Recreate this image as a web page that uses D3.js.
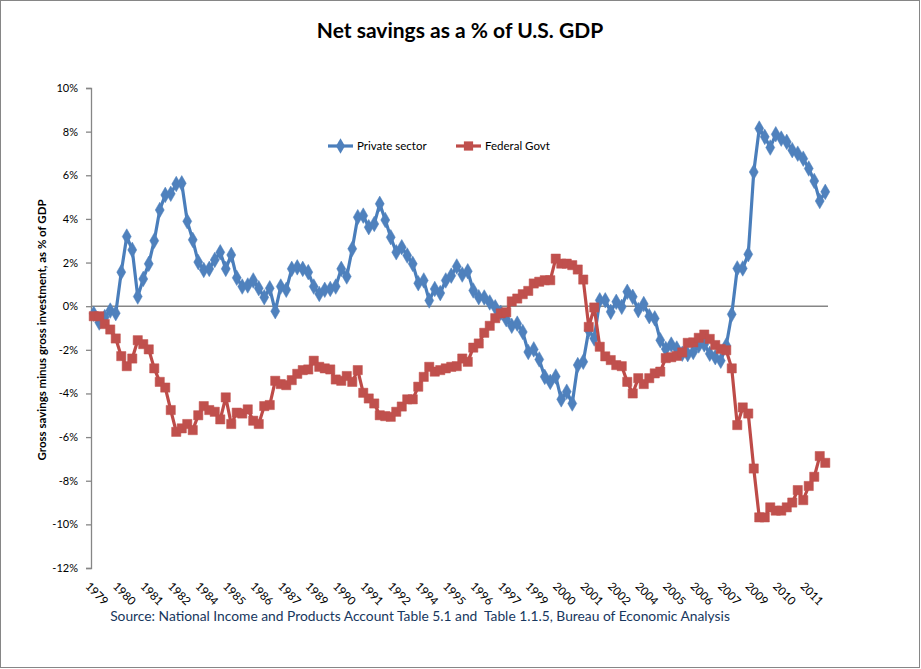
<!DOCTYPE html>
<html>
<head>
<meta charset="utf-8">
<script src="https://cdn.jsdelivr.net/npm/d3@7/dist/d3.min.js"></script>
<style>
  html, body { margin: 0; padding: 0; background: #fff; }
  svg { display: block; font-family: Lato, "Open Sans", sans-serif; }
</style>
</head>
<body>
<svg id="chart" width="921" height="669"></svg>
<script>
// ---------------- data (quarterly, 1979 Q1 .. 2012 Q2) ----------------
const firstYear = 1979;
const quarterCount = 134;
const categories = d3.range(quarterCount).map(i => `${firstYear + Math.floor(i / 4)} Q${(i % 4) + 1}`);

const privateSector = [
  -0.35, -0.75, -0.5, -0.2, -0.32, 1.56, 3.19, 2.58, 0.44, 1.25,
  1.94, 3.0, 4.41, 5.1, 5.15, 5.6, 5.63, 3.89, 3.04, 2.02,
  1.66, 1.71, 2.12, 2.47, 1.71, 2.35, 1.3, 0.9, 0.95, 1.18,
  0.82, 0.41, 0.82, -0.23, 0.9, 0.75, 1.71, 1.78, 1.71, 1.56,
  0.9, 0.56, 0.75, 0.79, 0.9, 1.71, 1.36, 2.63, 4.08, 4.15,
  3.62, 3.77, 4.69, 3.95, 3.16, 2.47, 2.7, 2.32, 1.94, 1.05,
  1.18, 0.26, 0.79, 0.6, 1.18, 1.4, 1.82, 1.45, 1.6, 0.72,
  0.41, 0.4, 0.17, -0.05, -0.3, -0.6, -0.9, -0.8, -1.18, -2.1,
  -1.98, -2.44, -3.24, -3.47, -3.22, -4.27, -3.92, -4.46, -2.7, -2.55,
  -1.1, -1.48, 0.27, 0.27, -0.26, 0.2, -0.03, 0.66, 0.43, -0.18,
  0.1, -0.46, -0.56, -1.56, -1.96, -1.76, -1.94, -2.18, -2.2, -2.1,
  -1.8, -1.75, -2.18, -2.34, -2.5, -1.8, -0.37, 1.73, 1.73, 2.38,
  6.15, 8.14, 7.76, 7.27, 7.88, 7.68, 7.53, 7.15, 6.99, 6.76,
  6.31, 5.74, 4.82, 5.24
];

const federalGovt = [
  -0.46, -0.46, -0.82, -1.07, -1.48, -2.29, -2.75, -2.4, -1.56, -1.74,
  -1.98, -2.85, -3.47, -3.73, -4.76, -5.76, -5.6, -5.4, -5.68, -5.0,
  -4.58, -4.76, -4.84, -5.19, -4.18, -5.4, -4.88, -4.92, -4.73, -5.25,
  -5.4, -4.58, -4.53, -3.42, -3.57, -3.62, -3.39, -3.1, -2.93, -2.9,
  -2.5, -2.78, -2.85, -2.9, -3.36, -3.42, -3.2, -3.47, -2.93, -3.97,
  -4.23, -4.46, -5.0, -5.04, -5.07, -4.84, -4.6, -4.27, -4.27, -3.69,
  -3.24, -2.78, -3.0, -2.93, -2.85, -2.78, -2.75, -2.4, -2.55, -1.9,
  -1.71, -1.22, -0.9, -0.55, -0.33, -0.28, 0.22, 0.35, 0.55, 0.7,
  1.04, 1.12, 1.19, 1.19, 2.18, 1.95, 1.95, 1.88, 1.68, 1.22,
  -0.95, -0.06, -1.86, -2.3, -2.47, -2.7, -2.75, -3.47, -4.0, -3.3,
  -3.57, -3.3, -3.08, -3.0, -2.38, -2.34, -2.28, -2.12, -1.68, -1.66,
  -1.45, -1.3, -1.5, -1.78, -1.96, -2.02, -2.85, -5.45, -4.64, -4.92,
  -7.44, -9.68, -9.68, -9.22, -9.37, -9.37, -9.22, -9.0, -8.43, -8.89,
  -8.24, -7.82, -6.87, -7.18
];

// category-axis labels, shown on every 5th quarter
const tickLabels = ["1979","1980","1981","1982","1984","1985","1986","1987","1989","1990",
  "1991","1992","1994","1995","1996","1997","1999","2000","2001","2002",
  "2004","2005","2006","2007","2009","2010","2011"];
const tickEvery = 5;
const yTicks = [-12, -10, -8, -6, -4, -2, 0, 2, 4, 6, 8, 10];

const seriesNames = ["Private sector", "Federal Govt"];
const titleText = "Net savings as a % of U.S. GDP";
const yTitleText = "Gross savings minus gross investment, as % of GDP";
const sourceText = "Source: National Income and Products Account Table 5.1 and  Table 1.1.5, Bureau of Economic Analysis";

// ---------------- layout ----------------
const W = 921, H = 669;
const plot = { left: 91, right: 828, top: 88, bottom: 568 };
const blue = "#4A7EBB", blueMk = "#4F81BD";
const red = "#BE4B48", redMk = "#C0504D";
const axisGray = "#868686";

const svg = d3.select("#chart");

svg.append("rect")
  .attr("x", 0.5).attr("y", 0.5).attr("width", W - 2).attr("height", H - 2)
  .attr("fill", "#fff").attr("stroke", axisGray).attr("stroke-width", 1);

const x = d3.scaleBand().domain(d3.range(categories.length)).range([plot.left, plot.right]).paddingInner(0).paddingOuter(0);
const cx = i => x(i) + x.bandwidth() / 2;
const y = d3.scaleLinear().domain([-12, 10]).range([plot.bottom, plot.top]);

// title
svg.append("text")
  .attr("x", 460).attr("y", 38)
  .attr("text-anchor", "middle")
  .attr("font-size", 21).attr("font-weight", "bold").attr("fill", "#000")
  .text(titleText);

// y axis
const yAxis = d3.axisLeft(y).tickValues(yTicks).tickSize(5).tickPadding(8).tickFormat(d => `${d}%`);
const gy = svg.append("g").attr("transform", `translate(${plot.left},0)`).call(yAxis);
gy.select(".domain").attr("stroke", axisGray).attr("stroke-width", 1.3);
gy.selectAll(".tick line").attr("stroke", axisGray).attr("stroke-width", 1.3);
gy.selectAll(".tick text").attr("font-family", "Lato, sans-serif").attr("font-size", 11).attr("fill", "#000");

// y title
svg.append("text")
  .attr("transform", `translate(46,330) rotate(-90)`)
  .attr("text-anchor", "middle")
  .attr("font-size", 11.5).attr("font-weight", "bold").attr("fill", "#000")
  .text(yTitleText);

// horizontal category axis at 0
svg.append("line")
  .attr("x1", plot.left).attr("x2", plot.right)
  .attr("y1", y(0)).attr("y2", y(0))
  .attr("stroke", axisGray).attr("stroke-width", 1.6);

// category labels
const gx = svg.append("g");
tickLabels.forEach((lab, k) => {
  const i = k * tickEvery;
  gx.append("text")
    .attr("transform", `translate(${cx(i) - 3},${plot.bottom + 13}) rotate(45)`)
    .attr("dy", "0.75em")
    .attr("font-size", 11.5).attr("fill", "#000")
    .text(lab);
});

// lines
const line = d3.line().x((d, i) => cx(i)).y(d => y(d));

function drawSeries(values, color, mkColor, shape, size) {
  const g = svg.append("g");
  g.append("path").datum(values)
    .attr("d", line).attr("fill", "none")
    .attr("stroke", color).attr("stroke-width", 3.2)
    .attr("stroke-linejoin", "round");
  g.selectAll("path.mk").data(values).join("path")
    .attr("class", "mk")
    .attr("transform", (d, i) => `translate(${cx(i)},${y(d)})`)
    .attr("d", d3.symbol().type(shape).size(size))
    .attr("fill", mkColor).attr("stroke", mkColor).attr("stroke-width", 0.5);
}
drawSeries(privateSector, blue, blueMk, d3.symbolDiamond, 70);
drawSeries(federalGovt, red, redMk, d3.symbolSquare, 85);

// legend
const legend = svg.append("g");
const legendItems = [
  { name: seriesNames[0], color: blue, mk: blueMk, shape: d3.symbolDiamond, size: 70, x: 328 },
  { name: seriesNames[1], color: red, mk: redMk, shape: d3.symbolSquare, size: 85, x: 456 }
];
legendItems.forEach(it => {
  const ly = 146;
  legend.append("line").attr("x1", it.x).attr("x2", it.x + 25).attr("y1", ly).attr("y2", ly)
    .attr("stroke", it.color).attr("stroke-width", 3.2);
  legend.append("path").attr("transform", `translate(${it.x + 12.5},${ly})`)
    .attr("d", d3.symbol().type(it.shape).size(it.size)).attr("fill", it.mk);
  legend.append("text").attr("x", it.x + 29).attr("y", ly).attr("dy", "0.35em")
    .attr("font-size", 11.5).attr("fill", "#000").text(it.name);
});

// source
svg.append("text")
  .attr("x", 420).attr("y", 621)
  .attr("text-anchor", "middle")
  .attr("font-size", 13.8).attr("fill", "#17375E")
  .style("white-space", "pre")
  .text(sourceText);
</script>
</body>
</html>
